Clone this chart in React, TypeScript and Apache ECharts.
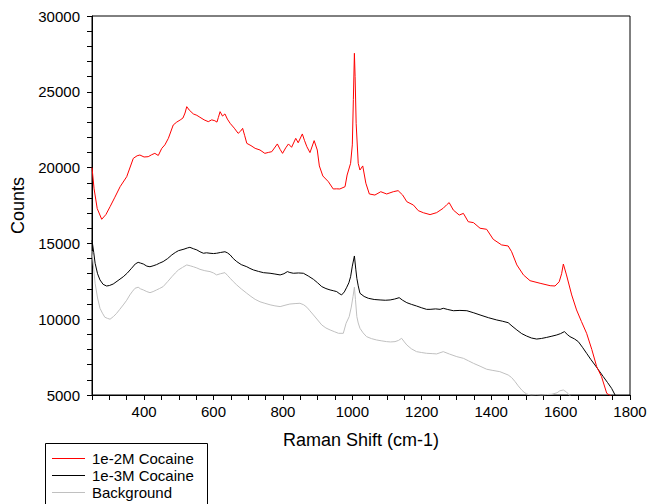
import React, { useEffect, useRef } from "react";
import * as echarts from "echarts";

const seriesNames = ["1e-2M Cocaine", "1e-3M Cocaine", "Background"];
const seriesColors = ["#ff0000", "#000000", "#c0c0c0"];

const redX = [250, 256, 265, 278, 290, 302, 316, 331, 350, 369, 380, 388, 400, 412, 422, 431, 441, 451, 460, 470, 484, 494, 504, 512, 518, 523, 530, 542, 552, 561, 573, 585, 595, 604, 610, 614, 619, 626, 633, 640, 648, 660, 671, 678, 684, 690, 696, 708, 720, 734, 748, 758, 768, 784, 792, 799, 808, 816, 825, 837, 844, 856, 862, 869, 878, 890, 899, 905, 915, 931, 945, 955, 964, 979, 985, 995, 1000, 1003, 1006, 1008, 1011, 1017, 1022, 1030, 1039, 1049, 1065, 1082, 1099, 1118, 1132, 1145, 1157, 1176, 1190, 1205, 1224, 1243, 1262, 1272, 1279, 1291, 1308, 1320, 1334, 1349, 1368, 1387, 1406, 1430, 1449, 1459, 1474, 1493, 1512, 1541, 1570, 1584, 1596, 1603, 1608, 1617, 1632, 1646, 1660, 1675, 1690, 1704, 1718, 1733, 1748];
const redY = [20000, 18600, 17300, 16590, 16900, 17420, 18050, 18740, 19400, 20610, 20780, 20830, 20700, 20720, 20850, 20940, 20800, 21270, 21500, 21930, 22810, 23000, 23140, 23270, 23600, 24020, 23800, 23540, 23450, 23320, 23150, 23030, 23150, 23090, 23000, 23300, 23690, 23400, 23540, 23200, 22920, 22600, 22260, 22400, 22590, 22100, 21600, 21450, 21270, 21160, 20940, 21000, 21050, 21560, 21200, 20940, 21300, 21560, 21340, 21930, 21640, 22220, 21800, 21380, 20990, 21780, 21160, 20110, 19450, 19070, 18590, 18600, 18590, 18740, 19510, 20280, 21500, 24500, 27540, 26000, 22920, 20280, 19840, 20110, 18970, 18260, 18190, 18410, 18260, 18410, 18480, 18190, 17750, 17530, 17160, 17020, 16900, 17030, 17320, 17550, 17690, 17200, 16870, 16980, 16430, 16370, 16000, 15930, 15270, 14900, 14830, 14450, 13580, 12920, 12540, 12370, 12210, 12190, 12470, 13000, 13640, 12920, 11600, 10610, 9850, 9070, 8000, 6870, 6210, 5110, 4900];

const blackX = [250, 255, 259, 266, 273, 282, 292, 300, 311, 325, 340, 352, 364, 375, 383, 390, 398, 408, 417, 426, 436, 445, 455, 468, 480, 490, 499, 515, 525, 532, 542, 552, 561, 571, 580, 590, 600, 609, 620, 633, 640, 648, 657, 667, 680, 696, 705, 715, 730, 744, 763, 777, 792, 803, 813, 820, 830, 845, 859, 873, 888, 900, 912, 924, 936, 945, 955, 962, 969, 977, 984, 990, 995, 1000, 1006, 1010, 1013, 1017, 1022, 1034, 1046, 1063, 1080, 1095, 1109, 1122, 1135, 1145, 1157, 1170, 1185, 1200, 1214, 1224, 1240, 1253, 1262, 1275, 1291, 1310, 1330, 1350, 1368, 1392, 1416, 1432, 1449, 1460, 1474, 1488, 1502, 1516, 1531, 1545, 1560, 1575, 1589, 1600, 1611, 1619, 1627, 1640, 1651, 1663, 1675, 1687, 1699, 1711, 1723, 1735, 1747, 1757, 1765];
const blackY = [15200, 14400, 13690, 13000, 12590, 12300, 12190, 12220, 12320, 12550, 12800, 13050, 13360, 13650, 13750, 13700, 13640, 13500, 13460, 13520, 13600, 13700, 13800, 14000, 14240, 14400, 14520, 14620, 14700, 14740, 14650, 14570, 14450, 14350, 14380, 14350, 14330, 14350, 14400, 14450, 14380, 14240, 14000, 13800, 13600, 13460, 13350, 13250, 13150, 13070, 13030, 12980, 12920, 13000, 13140, 13080, 13030, 13050, 13030, 12850, 12630, 12400, 12150, 12020, 11930, 11880, 11820, 11700, 11600, 11800, 12110, 12400, 12800, 13500, 14170, 13300, 12700, 12200, 11710, 11500, 11380, 11300, 11270, 11250, 11270, 11330, 11420, 11250, 11090, 10980, 10870, 10750, 10650, 10650, 10680, 10650, 10720, 10640, 10560, 10580, 10560, 10420, 10280, 10100, 9950, 9870, 9770, 9550, 9290, 9050, 8890, 8760, 8690, 8730, 8800, 8880, 8960, 9050, 9180, 9000, 8850, 8700, 8520, 8150, 7750, 7350, 6980, 6600, 6210, 5830, 5440, 5000, 4800];

const grayX = [250, 255, 259, 266, 273, 280, 287, 295, 302, 312, 321, 330, 340, 350, 359, 367, 374, 383, 390, 398, 408, 417, 426, 436, 445, 455, 468, 480, 490, 499, 511, 523, 533, 542, 552, 561, 575, 590, 600, 609, 620, 633, 640, 648, 657, 667, 680, 696, 708, 720, 734, 748, 763, 777, 792, 806, 820, 835, 849, 860, 869, 878, 888, 900, 912, 924, 936, 948, 960, 974, 982, 991, 997, 1002, 1006, 1009, 1013, 1017, 1022, 1031, 1041, 1055, 1070, 1085, 1099, 1110, 1123, 1133, 1142, 1150, 1157, 1170, 1185, 1200, 1214, 1230, 1243, 1262, 1280, 1301, 1320, 1335, 1349, 1368, 1387, 1405, 1425, 1449, 1459, 1469, 1478, 1488, 1495, 1502, 1515, 1530, 1545, 1560, 1575, 1590, 1598, 1608, 1617, 1627, 1640, 1660];
const grayY = [14500, 13300, 12370, 11400, 10720, 10400, 10130, 10050, 10000, 10180, 10390, 10650, 10940, 11250, 11600, 11850, 12040, 12110, 12000, 11930, 11820, 11750, 11820, 11930, 12030, 12150, 12480, 12800, 13050, 13250, 13420, 13580, 13520, 13460, 13380, 13290, 13200, 13140, 13050, 12920, 13000, 13070, 12900, 12700, 12480, 12260, 12000, 11710, 11500, 11310, 11150, 11050, 10950, 10880, 10830, 10920, 11000, 11030, 11050, 10950, 10790, 10550, 10280, 9950, 9620, 9420, 9290, 9180, 9070, 9070, 9730, 10170, 10800, 11500, 12110, 11300, 10170, 9750, 9400, 9100, 8850, 8720, 8630, 8570, 8520, 8500, 8520, 8600, 8740, 8500, 8300, 8050, 7860, 7800, 7750, 7730, 7710, 7860, 7700, 7530, 7420, 7250, 7090, 6900, 6700, 6620, 6540, 6320, 6150, 5880, 5600, 5330, 5180, 5070, 4990, 5020, 4980, 5030, 5050, 5150, 5280, 5330, 5200, 4950, 4700, 4400];

const xTickLabels = [400, 600, 800, 1000, 1200, 1400, 1600, 1800];
const yTickLabels = [5000, 10000, 15000, 20000, 25000, 30000];

const FONT = "'Liberation Sans', Arial, sans-serif";

function pairs(xs: number[], ys: number[]) {
  return xs.map((x, i) => [x, ys[i]]);
}

export default function App() {
  const ref = useRef<HTMLDivElement>(null);
  useEffect(() => {
    document.body.style.margin = "0";
    if (!ref.current) return;
    const chart = echarts.init(ref.current, null, { renderer: "svg" });
    const datasets = [pairs(redX, redY), pairs(blackX, blackY), pairs(grayX, grayY)];
    const legendTop = 443;
    const rowGap = 17;
    const legendGraphics: any[] = [
      {
        type: "rect",
        left: 45,
        top: legendTop,
        shape: { x: 0, y: 0, width: 162, height: 70 },
        style: { fill: "#fff", stroke: "#000", lineWidth: 1 },
        z: 10,
      },
    ];
    seriesNames.forEach((name, i) => {
      const cy = legendTop + 15 + i * rowGap;
      legendGraphics.push({
        type: "line",
        shape: { x1: 52, y1: cy + 0.5, x2: 85, y2: cy + 0.5 },
        style: { stroke: seriesColors[i], lineWidth: 1 },
        z: 11,
      });
      legendGraphics.push({
        type: "text",
        x: 92,
        y: cy,
        style: {
          text: name,
          fill: "#000",
          font: `15px ${FONT}`,
          verticalAlign: "middle",
          align: "left",
        },
        z: 11,
      });
    });

    chart.setOption({
      animation: false,
      backgroundColor: "#fff",
      textStyle: { fontFamily: FONT },
      grid: {
        left: 92,
        top: 16,
        right: 20,
        bottom: 109,
        show: true,
        borderColor: "#000",
        borderWidth: 1,
        backgroundColor: "transparent",
      },
      xAxis: {
        type: "value",
        min: 250,
        max: 1800,
        interval: 50,
        name: "Raman Shift (cm-1)",
        nameLocation: "middle",
        nameGap: 36,
        nameTextStyle: { fontSize: 18, color: "#000", fontFamily: FONT },
        axisLine: { lineStyle: { color: "#000", width: 1 } },
        axisTick: { show: true, inside: false, length: 5, lineStyle: { color: "#000" } },
        splitLine: { show: false },
        axisLabel: {
          color: "#000",
          fontSize: 15,
          fontFamily: FONT,
          margin: 9,
          showMinLabel: true,
          showMaxLabel: true,
          formatter: (v: number) => (xTickLabels.includes(v) ? String(v) : ""),
        },
      },
      yAxis: {
        type: "value",
        min: 5000,
        max: 30000,
        interval: 1000,
        name: "Counts",
        nameLocation: "middle",
        nameGap: 63,
        nameRotate: 90,
        nameTextStyle: { fontSize: 18, color: "#000", fontFamily: FONT },
        axisLine: { show: true, lineStyle: { color: "#000", width: 1 } },
        axisTick: { show: true, inside: false, length: 5, lineStyle: { color: "#000" } },
        splitLine: { show: false },
        axisLabel: {
          color: "#000",
          fontSize: 15,
          fontFamily: FONT,
          margin: 12,
          formatter: (v: number) => (yTickLabels.includes(v) ? String(v) : ""),
        },
      },
      series: [2, 1, 0].map((i) => ({
        type: "line",
        name: seriesNames[i],
        data: datasets[i],
        showSymbol: false,
        symbol: "none",
        clip: true,
        lineStyle: { color: seriesColors[i], width: 1 },
        itemStyle: { color: seriesColors[i] },
        z: 2 + (2 - i),
      })),
      graphic: legendGraphics,
    });
    return () => chart.dispose();
  }, []);
  return <div ref={ref} style={{ width: 650, height: 504 }} />;
}
